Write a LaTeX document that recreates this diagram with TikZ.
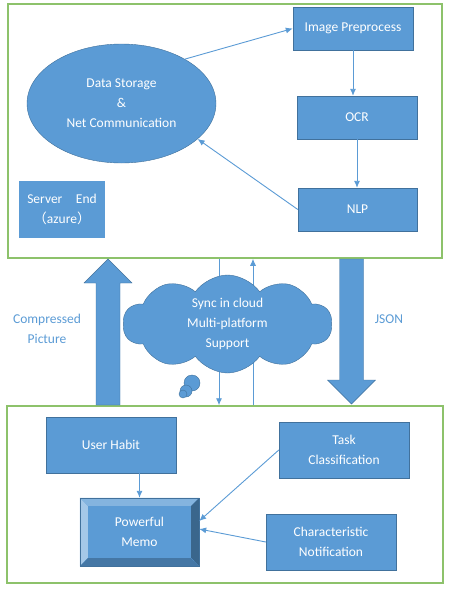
\documentclass[tikz,border=0pt]{standalone}
\usepackage{fontspec}
\setmainfont{Carlito}
\newfontfamily\cjkfont{Noto Sans CJK SC}
\usetikzlibrary{shapes.geometric,shapes.symbols,arrows.meta}
\definecolor{boxblue}{HTML}{5B9BD5}
\definecolor{edgeblue}{HTML}{41719C}
\definecolor{greenline}{HTML}{8DC26B}
\tikzset{
  blk/.style={draw=edgeblue,fill=boxblue,text=white,align=center,inner sep=0pt,font=\fontsize{13.5}{20}\selectfont},
  greenframe/.style={draw=greenline,line width=1.5pt,inner sep=0pt},
  conn/.style={draw=boxblue,line width=0.9pt,-{Latex[length=7pt,width=6pt]}},
  bigarrow/.style={draw=edgeblue,fill=boxblue},
  lbl/.style={text=boxblue,align=center,font=\fontsize{13.5}{20}\selectfont},
}
\begin{document}
\begin{tikzpicture}[x=1pt,y=-1pt]
\useasboundingbox (0,0) rectangle (450,592);
\pgfmathsetmacro{\sw}{12}
\pgfmathsetmacro{\hw}{24}
\pgfmathsetmacro{\hl}{24}
%frames
\node[greenframe,minimum width=434,minimum height=254] (server) at (225,131) {};
\node[greenframe,minimum width=436,minimum height=177] (client) at (225,494.5) {};
%server side
\node[blk,ellipse,minimum width=189,minimum height=119] (ds) at (121.5,103.5) {Data Storage\\\&\\Net Communication};
\node[blk,minimum width=120,minimum height=43] (ip) at (353,28.5) {Image Preprocess};
\node[blk,minimum width=120,minimum height=43] (ocr) at (357,117.5) {OCR};
\node[blk,minimum width=119,minimum height=43] (nlp) at (357.5,209.5) {NLP};
\node[blk,draw=none,minimum width=86,minimum height=57] (srv) at (62,209.5) {Server\hspace{1em}End\\{\cjkfont （}azure{\cjkfont ）}};
\draw[conn] (ds.35) -- (ip.west);
\draw[conn] (ip.south) -- (ip.south |- ocr.north);
\draw[conn] (ocr.south) -- (ocr.south |- nlp.north);
\draw[conn] (nlp.west) -- (ds.-25);
%sync lines
\coordinate (sa) at (219,0);
\coordinate (sb) at (253,0);
\draw[conn] (server.south -| sa) -- (client.north -| sa);
\draw[conn] (client.north -| sb) -- (server.south -| sb);
%block arrows
\draw[bigarrow] (108-\sw,405) -- (108-\sw,259+\hl) -- (108-\hw,259+\hl) -- (108,259) -- (108+\hw,259+\hl) -- (108+\sw,259+\hl) -- (108+\sw,405) -- cycle;
\draw[bigarrow] (351.5-\sw,259) -- (351.5-\sw,404-\hl) -- (351.5-\hw,404-\hl) -- (351.5,404) -- (351.5+\hw,404-\hl) -- (351.5+\sw,404-\hl) -- (351.5+\sw,259) -- cycle;
\node[lbl] (cp) at (47,329) {Compressed\\Picture};
\node[lbl] (js) at (389,319) {JSON};
%cloud
\node[blk,cloud,cloud puffs=10,cloud puff arc=110,aspect=2.1,minimum width=209,minimum height=98] (sync) at (227.5,324) {Sync in cloud\\Multi-platform\\Support};
\draw[edgeblue,fill=boxblue] (192,383) circle (8);
\draw[edgeblue,fill=boxblue] (186,391) circle (6);
\draw[edgeblue,fill=boxblue] (183,394) circle (4);
%client side
\node[blk,minimum width=130,minimum height=56] (uh) at (111,445) {User Habit};
\node[blk,minimum width=130,minimum height=56] (tc) at (344,450) {Task\\Classification};
\node[blk,minimum width=130,minimum height=56] (cn) at (331,542) {Characteristic\\Notification};
\node[blk,minimum width=119,minimum height=68] (memo) at (139.5,532) {Powerful\\Memo};
\fill[color=boxblue!75!white] (memo.north west) -- (memo.north east) -- ++(-8,8) -- ++(-103,0) -- cycle;
\fill[color=boxblue!55!white] (memo.north west) -- ++(8,8) -- ++(0,52) -- (memo.south west) -- cycle;
\fill[color=edgeblue!90!black] (memo.north east) -- ++(-8,8) -- ++(0,52) -- (memo.south east) -- cycle;
\fill[color=edgeblue!85!boxblue] (memo.south west) -- ++(8,-8) -- ++(103,0) -- (memo.south east) -- cycle;
\draw[edgeblue] (memo.north west) rectangle (memo.south east);
\draw[conn] (uh.south -| memo.north) -- (memo.north);
\draw[conn] (tc.west) -- ([yshift=11pt]memo.east);
\draw[conn] (cn.west) -- ([yshift=3pt]memo.east);
\end{tikzpicture}
\end{document}
